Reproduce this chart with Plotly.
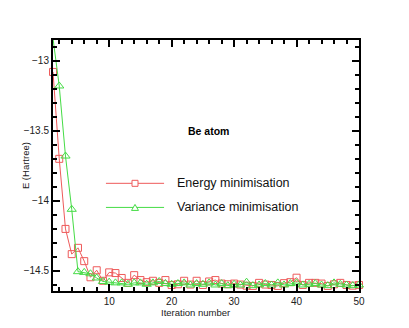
import plotly.graph_objects as go

iterations = list(range(1, 51))

energy_min = [
    -13.08, -13.70, -14.20, -14.38, -14.335, -14.43, -14.545, -14.495, -14.57, -14.51,
    -14.515, -14.55, -14.585, -14.53, -14.565, -14.58, -14.57, -14.585, -14.565, -14.60,
    -14.595, -14.57, -14.597, -14.57, -14.60, -14.575, -14.565, -14.59, -14.595, -14.59,
    -14.597, -14.605, -14.607, -14.585, -14.597, -14.60, -14.607, -14.587, -14.58, -14.548,
    -14.60, -14.585, -14.585, -14.59, -14.607, -14.595, -14.585, -14.60, -14.605, -14.60,
]

variance_min = [
    -12.84, -13.18, -13.68, -14.06, -14.505, -14.51, -14.52, -14.55, -14.575, -14.58,
    -14.585, -14.585, -14.595, -14.585, -14.585, -14.595, -14.585, -14.575, -14.59, -14.595,
    -14.59, -14.585, -14.60, -14.59, -14.595, -14.585, -14.60, -14.59, -14.605, -14.595,
    -14.60, -14.58, -14.605, -14.60, -14.59, -14.60, -14.585, -14.60, -14.59, -14.585,
    -14.60, -14.595, -14.59, -14.60, -14.605, -14.585, -14.595, -14.60, -14.605, -14.60,
]

RED = "#ee5a5a"
GREEN = "#45dc45"
FONT = "Liberation Sans, Arial, sans-serif"

fig = go.Figure()
fig.add_trace(go.Scatter(
    x=iterations, y=energy_min, mode="lines+markers", name="Energy minimisation",
    line=dict(color=RED, width=1),
    marker=dict(symbol="square-open", size=7, color=RED, line=dict(width=1)),
    cliponaxis=False,
))
fig.add_trace(go.Scatter(
    x=iterations, y=variance_min, mode="lines+markers", name="Variance minimisation",
    line=dict(color=GREEN, width=1),
    marker=dict(symbol="triangle-up-open", size=8, color=GREEN, line=dict(width=1)),
    cliponaxis=False,
))

# hand-drawn legend (paper coords)
legend_rows = [("Energy minimisation", RED, 0.429, "square"),
               ("Variance minimisation", GREEN, 0.333, "triangle")]
shapes = []
annotations = []
for label, color, yy, sym in legend_rows:
    shapes.append(dict(type="line", xref="paper", yref="paper",
                       x0=0.173, x1=0.363, y0=yy, y1=yy,
                       line=dict(color=color, width=1)))
    if sym == "square":
        shapes.append(dict(type="rect", xref="paper", yref="paper",
                           x0=0.268 - 3 / 306, x1=0.268 + 3 / 306,
                           y0=yy - 3 / 251, y1=yy + 3 / 251,
                           line=dict(color=color, width=1), fillcolor="white"))
    else:
        cx, h, w = 0.268, 6 / 251, 3.5 / 306
        shapes.append(dict(type="path", xref="paper", yref="paper",
                           path=f"M {cx - w} {yy - h / 2} L {cx + w} {yy - h / 2} L {cx} {yy + h / 2} Z",
                           line=dict(color=color, width=1), fillcolor="white"))
    annotations.append(dict(text=label, xref="paper", yref="paper", x=0.399, y=yy,
                            xanchor="left", yanchor="middle", showarrow=False,
                            font=dict(size=12.5, color="#111111", family=FONT)))

annotations += [
    dict(text="<b>Be atom</b>", xref="paper", yref="paper", x=0.507, y=0.669,
         showarrow=False, font=dict(size=10.5, color="black", family=FONT)),
    dict(text="E (Hartree)", xref="paper", yref="paper", x=-0.114, y=0.5,
         textangle=-90, showarrow=False, font=dict(size=9.5, color="#222222", family=FONT)),
    dict(text="Iteration number", xref="paper", yref="paper", x=0.467, y=-0.0876,
         showarrow=False, yanchor="middle", font=dict(size=9.5, color="#222222", family=FONT)),
]

axis_common = dict(
    showline=True, linecolor="black", linewidth=2, mirror="ticks",
    ticks="inside", ticklen=7, tickwidth=1.5, tickcolor="black",
    showgrid=False, zeroline=False,
    tickfont=dict(size=10, color="#222222", family=FONT),
)

# page body has an 8px margin, so shift the plot box up/left by that much
fig.update_layout(
    width=409, height=328,
    margin=dict(l=45, r=58, t=32, b=45),
    paper_bgcolor="white", plot_bgcolor="white",
    showlegend=False,
    shapes=shapes, annotations=annotations,
    xaxis=dict(range=[1, 50], tick0=0, dtick=10,
               minor=dict(dtick=2, ticks="inside", ticklen=4, tickcolor="black"),
               **axis_common),
    yaxis=dict(range=[-14.643, -12.852], tick0=-13, dtick=0.5,
               minor=dict(dtick=0.1, ticks="inside", ticklen=4, tickcolor="black"),
               **axis_common),
)

fig.write_html("out.html")
